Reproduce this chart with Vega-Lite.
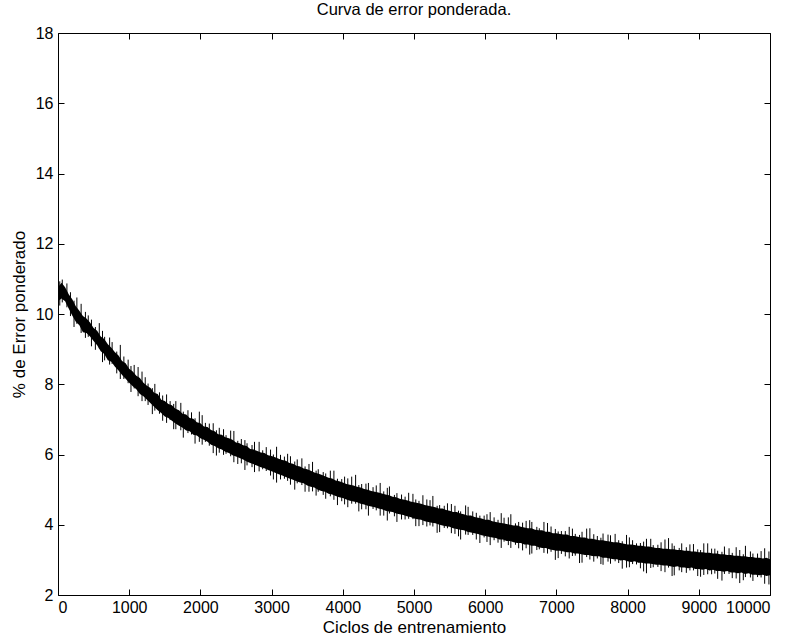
{
"$schema": "https://vega.github.io/schema/vega-lite/v6.json",
"width": 712, "height": 562,
"autosize": {"type": "none"},
"padding": {"left": 58, "top": 33, "right": 23, "bottom": 45},
"background": "white",
"title": {"text": "Curva de error ponderada.", "font": "Liberation Sans", "fontSize": 16.5, "fontWeight": "normal", "color": "black", "anchor": "middle", "offset": 7},
"config": {
  "view": {"stroke": "black", "strokeWidth": 1},
  "axis": {"grid": false, "domain": false, "tickColor": "black", "tickSize": -6, "labelFont": "Liberation Sans", "labelFontSize": 16, "labelColor": "black", "titleFont": "Liberation Sans", "titleFontSize": 17, "titleFontWeight": "normal", "titleColor": "black"}
},
"datasets": {
"band": [
{"x":0,"lo":10.36,"hi":10.76},{"x":50,"lo":10.44,"hi":10.89},{"x":100,"lo":10.36,"hi":10.76},{"x":150,"lo":10.16,"hi":10.56},{"x":200,"lo":9.96,"hi":10.42},{"x":250,"lo":9.78,"hi":10.22},
{"x":300,"lo":9.68,"hi":10.09},{"x":350,"lo":9.48,"hi":9.94},{"x":400,"lo":9.46,"hi":9.87},{"x":450,"lo":9.36,"hi":9.76},{"x":500,"lo":9.23,"hi":9.6},
{"x":550,"lo":9.11,"hi":9.52},{"x":600,"lo":8.94,"hi":9.36},{"x":650,"lo":8.86,"hi":9.29},{"x":700,"lo":8.68,"hi":9.14},{"x":750,"lo":8.64,"hi":9.04},
{"x":800,"lo":8.5,"hi":8.91},{"x":850,"lo":8.39,"hi":8.82},{"x":900,"lo":8.26,"hi":8.66},{"x":950,"lo":8.16,"hi":8.6},{"x":1000,"lo":8.04,"hi":8.44},
{"x":1050,"lo":7.94,"hi":8.36},{"x":1100,"lo":7.86,"hi":8.24},{"x":1150,"lo":7.72,"hi":8.18},{"x":1200,"lo":7.66,"hi":8.04},{"x":1250,"lo":7.56,"hi":7.96},
{"x":1300,"lo":7.46,"hi":7.89},{"x":1350,"lo":7.36,"hi":7.76},{"x":1400,"lo":7.26,"hi":7.72},{"x":1450,"lo":7.18,"hi":7.56},{"x":1500,"lo":7.08,"hi":7.52},
{"x":1550,"lo":7.04,"hi":7.44},{"x":1600,"lo":6.96,"hi":7.4},{"x":1650,"lo":6.88,"hi":7.3},{"x":1700,"lo":6.82,"hi":7.26},{"x":1750,"lo":6.76,"hi":7.16},
{"x":1800,"lo":6.68,"hi":7.14},{"x":1850,"lo":6.66,"hi":7.04},{"x":1900,"lo":6.56,"hi":7.02},{"x":1950,"lo":6.54,"hi":6.92},{"x":2000,"lo":6.46,"hi":6.89},
{"x":2050,"lo":6.42,"hi":6.8},{"x":2100,"lo":6.36,"hi":6.78},{"x":2150,"lo":6.28,"hi":6.7},{"x":2200,"lo":6.24,"hi":6.66},{"x":2250,"lo":6.18,"hi":6.58},
{"x":2300,"lo":6.14,"hi":6.56},{"x":2350,"lo":6.08,"hi":6.49},{"x":2400,"lo":6.04,"hi":6.46},{"x":2450,"lo":5.98,"hi":6.42},{"x":2500,"lo":5.94,"hi":6.34},
{"x":2550,"lo":5.9,"hi":6.32},{"x":2600,"lo":5.86,"hi":6.26},{"x":2650,"lo":5.8,"hi":6.24},{"x":2700,"lo":5.76,"hi":6.16},{"x":2750,"lo":5.72,"hi":6.14},
{"x":2800,"lo":5.68,"hi":6.1},{"x":2850,"lo":5.64,"hi":6.06},{"x":2900,"lo":5.61,"hi":6.04},{"x":2950,"lo":5.56,"hi":5.98},{"x":3000,"lo":5.52,"hi":5.96},
{"x":3050,"lo":5.48,"hi":5.92},{"x":3100,"lo":5.44,"hi":5.88},{"x":3150,"lo":5.4,"hi":5.84},{"x":3200,"lo":5.36,"hi":5.82},{"x":3250,"lo":5.32,"hi":5.76},
{"x":3300,"lo":5.28,"hi":5.74},{"x":3350,"lo":5.24,"hi":5.68},{"x":3400,"lo":5.2,"hi":5.66},{"x":3450,"lo":5.18,"hi":5.6},{"x":3500,"lo":5.12,"hi":5.58},
{"x":3550,"lo":5.08,"hi":5.54},{"x":3600,"lo":5.06,"hi":5.49},{"x":3650,"lo":5.0,"hi":5.46},{"x":3700,"lo":4.96,"hi":5.42},{"x":3750,"lo":4.94,"hi":5.38},
{"x":3800,"lo":4.88,"hi":5.34},{"x":3850,"lo":4.86,"hi":5.32},{"x":3900,"lo":4.82,"hi":5.26},{"x":3950,"lo":4.78,"hi":5.24},{"x":4000,"lo":4.76,"hi":5.2},
{"x":4050,"lo":4.72,"hi":5.16},{"x":4100,"lo":4.68,"hi":5.14},{"x":4150,"lo":4.66,"hi":5.12},{"x":4200,"lo":4.64,"hi":5.08},{"x":4250,"lo":4.6,"hi":5.06},
{"x":4300,"lo":4.58,"hi":5.02},{"x":4350,"lo":4.54,"hi":5.0},{"x":4400,"lo":4.52,"hi":4.96},{"x":4450,"lo":4.5,"hi":4.94},{"x":4500,"lo":4.46,"hi":4.92},
{"x":4550,"lo":4.44,"hi":4.89},{"x":4600,"lo":4.4,"hi":4.86},{"x":4650,"lo":4.38,"hi":4.84},{"x":4700,"lo":4.36,"hi":4.8},{"x":4750,"lo":4.32,"hi":4.78},
{"x":4800,"lo":4.3,"hi":4.74},{"x":4850,"lo":4.28,"hi":4.72},{"x":4900,"lo":4.24,"hi":4.7},{"x":4950,"lo":4.22,"hi":4.66},{"x":5000,"lo":4.18,"hi":4.64},
{"x":5050,"lo":4.16,"hi":4.62},{"x":5100,"lo":4.14,"hi":4.6},{"x":5150,"lo":4.1,"hi":4.56},{"x":5200,"lo":4.08,"hi":4.54},{"x":5250,"lo":4.06,"hi":4.52},
{"x":5300,"lo":4.04,"hi":4.5},{"x":5350,"lo":4.01,"hi":4.46},{"x":5400,"lo":3.98,"hi":4.46},{"x":5450,"lo":3.96,"hi":4.42},{"x":5500,"lo":3.94,"hi":4.4},
{"x":5550,"lo":3.9,"hi":4.36},{"x":5600,"lo":3.88,"hi":4.36},{"x":5650,"lo":3.86,"hi":4.32},{"x":5700,"lo":3.84,"hi":4.3},{"x":5750,"lo":3.8,"hi":4.26},
{"x":5800,"lo":3.78,"hi":4.26},{"x":5850,"lo":3.76,"hi":4.22},{"x":5900,"lo":3.74,"hi":4.2},{"x":5950,"lo":3.7,"hi":4.18},{"x":6000,"lo":3.68,"hi":4.14},
{"x":6050,"lo":3.66,"hi":4.14},{"x":6100,"lo":3.64,"hi":4.1},{"x":6150,"lo":3.62,"hi":4.08},{"x":6200,"lo":3.58,"hi":4.06},{"x":6250,"lo":3.58,"hi":4.04},
{"x":6300,"lo":3.54,"hi":4.02},{"x":6350,"lo":3.54,"hi":4.0},{"x":6400,"lo":3.5,"hi":3.98},{"x":6450,"lo":3.48,"hi":3.98},{"x":6500,"lo":3.48,"hi":3.94},
{"x":6550,"lo":3.44,"hi":3.92},{"x":6600,"lo":3.44,"hi":3.9},{"x":6650,"lo":3.4,"hi":3.9},{"x":6700,"lo":3.4,"hi":3.86},{"x":6750,"lo":3.36,"hi":3.84},
{"x":6800,"lo":3.34,"hi":3.84},{"x":6850,"lo":3.34,"hi":3.8},{"x":6900,"lo":3.3,"hi":3.8},{"x":6950,"lo":3.28,"hi":3.76},{"x":7000,"lo":3.26,"hi":3.76},
{"x":7050,"lo":3.26,"hi":3.74},{"x":7100,"lo":3.24,"hi":3.72},{"x":7150,"lo":3.22,"hi":3.72},{"x":7200,"lo":3.22,"hi":3.68},{"x":7250,"lo":3.18,"hi":3.68},
{"x":7300,"lo":3.18,"hi":3.66},{"x":7350,"lo":3.16,"hi":3.64},{"x":7400,"lo":3.14,"hi":3.64},{"x":7450,"lo":3.14,"hi":3.6},{"x":7500,"lo":3.11,"hi":3.6},
{"x":7550,"lo":3.1,"hi":3.58},{"x":7600,"lo":3.1,"hi":3.56},{"x":7650,"lo":3.06,"hi":3.56},{"x":7700,"lo":3.06,"hi":3.54},{"x":7750,"lo":3.04,"hi":3.52},
{"x":7800,"lo":3.02,"hi":3.5},{"x":7850,"lo":3.02,"hi":3.5},{"x":7900,"lo":2.98,"hi":3.48},{"x":7950,"lo":3.0,"hi":3.46},{"x":8000,"lo":2.96,"hi":3.44},
{"x":8050,"lo":2.94,"hi":3.44},{"x":8100,"lo":2.96,"hi":3.42},{"x":8150,"lo":2.92,"hi":3.4},{"x":8200,"lo":2.92,"hi":3.4},{"x":8250,"lo":2.9,"hi":3.38},
{"x":8300,"lo":2.9,"hi":3.38},{"x":8350,"lo":2.88,"hi":3.36},{"x":8400,"lo":2.86,"hi":3.34},{"x":8450,"lo":2.86,"hi":3.34},{"x":8500,"lo":2.84,"hi":3.32},
{"x":8550,"lo":2.84,"hi":3.32},{"x":8600,"lo":2.82,"hi":3.3},{"x":8650,"lo":2.8,"hi":3.3},{"x":8700,"lo":2.82,"hi":3.28},{"x":8750,"lo":2.78,"hi":3.28},
{"x":8800,"lo":2.78,"hi":3.26},{"x":8850,"lo":2.76,"hi":3.26},{"x":8900,"lo":2.78,"hi":3.24},{"x":8950,"lo":2.74,"hi":3.24},{"x":9000,"lo":2.74,"hi":3.22},
{"x":9050,"lo":2.72,"hi":3.22},{"x":9100,"lo":2.74,"hi":3.2},{"x":9150,"lo":2.7,"hi":3.2},{"x":9200,"lo":2.72,"hi":3.18},{"x":9250,"lo":2.68,"hi":3.18},
{"x":9300,"lo":2.68,"hi":3.16},{"x":9350,"lo":2.66,"hi":3.16},{"x":9400,"lo":2.68,"hi":3.14},{"x":9450,"lo":2.64,"hi":3.14},{"x":9500,"lo":2.64,"hi":3.12},
{"x":9550,"lo":2.62,"hi":3.12},{"x":9600,"lo":2.64,"hi":3.1},{"x":9650,"lo":2.6,"hi":3.1},{"x":9700,"lo":2.62,"hi":3.08},{"x":9750,"lo":2.58,"hi":3.08},
{"x":9800,"lo":2.58,"hi":3.06},{"x":9850,"lo":2.56,"hi":3.06},{"x":9900,"lo":2.58,"hi":3.04},{"x":9950,"lo":2.54,"hi":3.06},{"x":10000,"lo":2.56,"hi":3.02}
],
"spikes": [
{"x":25,"a":10.24,"b":10.93},{"x":125,"a":10.19,"b":10.87},{"x":225,"a":9.63,"b":10.38},{"x":325,"a":9.46,"b":10.29},{"x":425,"a":9.35,"b":9.96},
{"x":525,"a":8.98,"b":9.63},{"x":625,"a":8.63,"b":9.52},{"x":725,"a":8.56,"b":9.33},{"x":825,"a":8.31,"b":8.93},{"x":925,"a":8.15,"b":8.79},
{"x":1025,"a":7.78,"b":8.52},{"x":1125,"a":7.66,"b":8.49},{"x":1225,"a":7.52,"b":8.2},{"x":1325,"a":7.15,"b":7.89},{"x":1425,"a":7.16,"b":7.77},
{"x":1525,"a":6.9,"b":7.71},{"x":1625,"a":6.72,"b":7.44},{"x":1725,"a":6.69,"b":7.47},{"x":1825,"a":6.61,"b":7.26},{"x":1925,"a":6.31,"b":7.03},
{"x":2025,"a":6.28,"b":7.12},{"x":2125,"a":6.25,"b":6.88},{"x":2225,"a":5.97,"b":6.69},{"x":2325,"a":5.99,"b":6.72},{"x":2425,"a":5.95,"b":6.68},
{"x":2525,"a":5.73,"b":6.39},{"x":2625,"a":5.56,"b":6.41},{"x":2725,"a":5.64,"b":6.27},{"x":2825,"a":5.52,"b":6.36},{"x":2925,"a":5.53,"b":6.21},
{"x":3025,"a":5.29,"b":6.0},{"x":3125,"a":5.29,"b":5.99},{"x":3225,"a":5.25,"b":6.02},{"x":3325,"a":5.0,"b":5.8},{"x":3425,"a":5.13,"b":5.89},
{"x":3525,"a":4.94,"b":5.73},{"x":3625,"a":4.83,"b":5.54},{"x":3725,"a":4.85,"b":5.5},{"x":3825,"a":4.81,"b":5.54},{"x":3925,"a":4.56,"b":5.31},
{"x":4025,"a":4.58,"b":5.37},{"x":4125,"a":4.6,"b":5.37},{"x":4225,"a":4.38,"b":5.13},{"x":4325,"a":4.44,"b":5.17},{"x":4425,"a":4.45,"b":5.07},
{"x":4525,"a":4.26,"b":5.19},{"x":4625,"a":4.12,"b":5.05},{"x":4725,"a":4.24,"b":4.85},{"x":4825,"a":4.15,"b":4.86},{"x":4925,"a":4.17,"b":4.91},
{"x":5025,"a":3.96,"b":4.72},{"x":5125,"a":3.99,"b":4.84},{"x":5225,"a":3.98,"b":4.7},{"x":5325,"a":3.77,"b":4.54},{"x":5425,"a":3.91,"b":4.54},
{"x":5525,"a":3.76,"b":4.59},{"x":5625,"a":3.67,"b":4.4},{"x":5725,"a":3.72,"b":4.55},{"x":5825,"a":3.71,"b":4.38},{"x":5925,"a":3.48,"b":4.26},
{"x":6025,"a":3.51,"b":4.3},{"x":6125,"a":3.56,"b":4.21},{"x":6225,"a":3.34,"b":4.33},{"x":6325,"a":3.42,"b":4.21},{"x":6425,"a":3.43,"b":4.04},
{"x":6525,"a":3.27,"b":4.06},{"x":6625,"a":3.15,"b":4.13},{"x":6725,"a":3.28,"b":3.94},{"x":6825,"a":3.2,"b":4.08},{"x":6925,"a":3.23,"b":3.95},
{"x":7025,"a":3.05,"b":3.81},{"x":7125,"a":3.1,"b":3.82},{"x":7225,"a":3.11,"b":3.89},{"x":7325,"a":2.91,"b":3.71},{"x":7425,"a":3.08,"b":3.89},
{"x":7525,"a":2.95,"b":3.73},{"x":7625,"a":2.88,"b":3.63},{"x":7725,"a":2.95,"b":3.72},{"x":7825,"a":2.96,"b":3.74},{"x":7925,"a":2.75,"b":3.53},
{"x":8025,"a":2.79,"b":3.64},{"x":8125,"a":2.87,"b":3.47},{"x":8225,"a":2.67,"b":3.52},{"x":8325,"a":2.77,"b":3.6},{"x":8425,"a":2.8,"b":3.43},
{"x":8525,"a":2.65,"b":3.58},{"x":8625,"a":2.54,"b":3.47},{"x":8725,"a":2.7,"b":3.34},{"x":8825,"a":2.63,"b":3.36},{"x":8925,"a":2.7,"b":3.45},
{"x":9025,"a":2.52,"b":3.28},{"x":9125,"a":2.59,"b":3.47},{"x":9225,"a":2.61,"b":3.32},{"x":9325,"a":2.41,"b":3.23},{"x":9425,"a":2.6,"b":3.33},
{"x":9525,"a":2.47,"b":3.36},{"x":9625,"a":2.42,"b":3.16},{"x":9725,"a":2.5,"b":3.24},{"x":9825,"a":2.51,"b":3.18},{"x":9925,"a":2.32,"b":3.33},
{"x":60,"a":10.33,"b":10.98},{"x":175,"a":9.94,"b":10.62},{"x":265,"a":9.72,"b":10.47},{"x":385,"a":9.32,"b":10.06},{"x":470,"a":9.08,"b":9.84},
{"x":580,"a":9.02,"b":9.74},{"x":655,"a":8.68,"b":9.35},{"x":760,"a":8.58,"b":9.2},{"x":875,"a":8.15,"b":9.12},{"x":985,"a":8.03,"b":8.7},
{"x":1070,"a":7.88,"b":8.55},{"x":1180,"a":7.52,"b":8.36},{"x":1265,"a":7.41,"b":8.02},{"x":1360,"a":7.25,"b":8.01},{"x":1470,"a":6.96,"b":7.68},
{"x":1575,"a":6.98,"b":7.52},{"x":1655,"a":6.72,"b":7.52},{"x":1760,"a":6.48,"b":7.22},{"x":1875,"a":6.57,"b":7.2},{"x":1985,"a":6.36,"b":7.22},
{"x":2070,"a":6.36,"b":6.9},{"x":2180,"a":6.04,"b":6.89},{"x":2265,"a":6.05,"b":6.76},{"x":2360,"a":6.02,"b":6.55},{"x":2470,"a":5.78,"b":6.67},
{"x":2575,"a":5.75,"b":6.44},{"x":2655,"a":5.69,"b":6.32},{"x":2760,"a":5.5,"b":6.36},{"x":2875,"a":5.58,"b":6.12},{"x":2985,"a":5.4,"b":6.14},
{"x":3070,"a":5.2,"b":6.22},{"x":3180,"a":5.31,"b":5.94},{"x":3265,"a":5.14,"b":5.95},{"x":3360,"a":5.18,"b":5.86},{"x":3470,"a":4.94,"b":5.66},
{"x":3575,"a":4.95,"b":5.79},{"x":3655,"a":4.94,"b":5.58},{"x":3760,"a":4.74,"b":5.46},{"x":3875,"a":4.71,"b":5.54},{"x":3985,"a":4.67,"b":5.3},
{"x":4070,"a":4.5,"b":5.32},{"x":4180,"a":4.6,"b":5.42},{"x":4265,"a":4.44,"b":5.16},{"x":4360,"a":4.26,"b":5.19},{"x":4470,"a":4.41,"b":5.12},
{"x":4575,"a":4.26,"b":4.95},{"x":4655,"a":4.32,"b":5.09},{"x":4760,"a":4.08,"b":4.9},{"x":4875,"a":4.15,"b":4.8},{"x":4985,"a":4.16,"b":4.88},
{"x":5070,"a":3.96,"b":4.68},{"x":5180,"a":3.95,"b":4.72},{"x":5265,"a":3.95,"b":4.82},{"x":5360,"a":3.79,"b":4.56},{"x":5470,"a":3.9,"b":4.61},
{"x":5575,"a":3.74,"b":4.54},{"x":5655,"a":3.58,"b":4.38},{"x":5760,"a":3.71,"b":4.51},{"x":5875,"a":3.58,"b":4.34},{"x":5985,"a":3.64,"b":4.26},
{"x":6070,"a":3.42,"b":4.36},{"x":6180,"a":3.49,"b":4.14},{"x":6265,"a":3.52,"b":4.2},{"x":6360,"a":3.34,"b":4.3},{"x":6470,"a":3.33,"b":4.08},
{"x":6575,"a":3.33,"b":4.11},{"x":6655,"a":3.18,"b":4.08},{"x":6760,"a":3.3,"b":3.9},{"x":6875,"a":3.18,"b":4.05},{"x":6985,"a":3.0,"b":3.88},
{"x":7070,"a":3.17,"b":3.82},{"x":7180,"a":3.04,"b":3.94},{"x":7265,"a":3.12,"b":3.74},{"x":7360,"a":2.92,"b":3.8},{"x":7470,"a":3.01,"b":3.9},
{"x":7575,"a":3.04,"b":3.68},{"x":7655,"a":2.86,"b":3.75},{"x":7760,"a":2.89,"b":3.7},{"x":7875,"a":2.91,"b":3.56},{"x":7985,"a":2.78,"b":3.71},
{"x":8070,"a":2.88,"b":3.56},{"x":8180,"a":2.76,"b":3.48},{"x":8265,"a":2.62,"b":3.6},{"x":8360,"a":2.79,"b":3.42},{"x":8470,"a":2.68,"b":3.5},
{"x":8575,"a":2.78,"b":3.62},{"x":8655,"a":2.56,"b":3.4},{"x":8760,"a":2.65,"b":3.47},{"x":8875,"a":2.7,"b":3.44},{"x":8985,"a":2.54,"b":3.3},
{"x":9070,"a":2.57,"b":3.47},{"x":9180,"a":2.59,"b":3.32},{"x":9265,"a":2.46,"b":3.26},{"x":9360,"a":2.6,"b":3.38},{"x":9470,"a":2.48,"b":3.2},
{"x":9575,"a":2.34,"b":3.28},{"x":9655,"a":2.51,"b":3.4},{"x":9760,"a":2.4,"b":3.18},{"x":9875,"a":2.5,"b":3.25},{"x":9985,"a":2.3,"b":3.24}
]
},
"layer": [
  {"data": {"name": "band"},
   "mark": {"type": "area", "color": "black", "interpolate": "linear"},
   "encoding": {
     "x": {"field": "x", "type": "quantitative", "scale": {"domain": [0, 10000], "nice": false}, "axis": {"orient": "bottom", "values": [0,1000,2000,3000,4000,5000,6000,7000,8000,9000,10000], "format": "d", "title": "Ciclos de entrenamiento", "labelPadding": 10, "titlePadding": 4}},
     "y": {"field": "lo", "type": "quantitative", "scale": {"domain": [2, 18], "nice": false}, "axis": {"orient": "left", "values": [2,4,6,8,10,12,14,16,18], "format": "d", "title": "% de Error ponderado", "labelPadding": 11, "titlePadding": 7}},
     "y2": {"field": "hi"}
   }},
  {"data": {"name": "spikes"},
   "mark": {"type": "rule", "color": "black", "strokeWidth": 1},
   "encoding": {
     "x": {"field": "x", "type": "quantitative", "axis": null},
     "y": {"field": "a", "type": "quantitative", "axis": null},
     "y2": {"field": "b"}
   }},
  {"data": {"name": "band"},
   "mark": {"type": "area", "opacity": 0},
   "encoding": {
     "x": {"field": "x", "type": "quantitative", "axis": {"orient": "top", "values": [0,1000,2000,3000,4000,5000,6000,7000,8000,9000,10000], "labels": false, "title": null}},
     "y": {"field": "lo", "type": "quantitative", "axis": {"orient": "right", "values": [2,4,6,8,10,12,14,16,18], "labels": false, "title": null}},
     "y2": {"field": "hi"}
   }}
],
"resolve": {"axis": {"x": "independent", "y": "independent"}}
}
